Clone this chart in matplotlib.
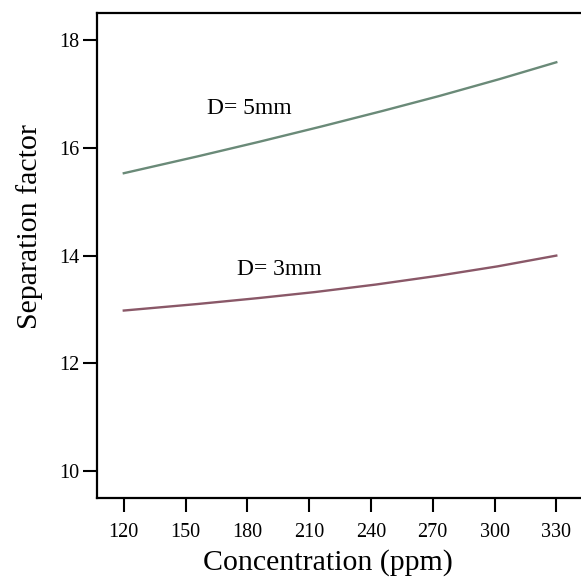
import matplotlib as mpl
mpl.use('Agg')
import matplotlib.pyplot as plt
import numpy as np

# concentration (ppm)
conc = [120, 150, 180, 210, 240, 270, 300, 330]
# separation factor per nozzle diameter
sf_5mm = [15.53, 15.79, 16.06, 16.34, 16.63, 16.93, 17.25, 17.59]
sf_3mm = [12.98, 13.08, 13.19, 13.31, 13.45, 13.61, 13.79, 14.00]

x_ticks = [120, 150, 180, 210, 240, 270, 300, 330]
y_ticks = [10, 12, 14, 16, 18]

plt.rcParams['font.family'] = ['Liberation Serif', 'DejaVu Serif']

fig = plt.figure(figsize=(5.81, 5.77), dpi=100)
ax = fig.add_axes([0.167, 0.137, 0.833, 0.840])

xs = np.linspace(conc[0], conc[-1], 200)
ax.plot(xs, np.interp(xs, conc, sf_5mm), color='#6a8a78', lw=1.7)
ax.plot(xs, np.interp(xs, conc, sf_3mm), color='#8a5868', lw=1.7)

ax.text(160.5, 16.74, 'D= 5mm', fontsize=17, va='center', ha='left')
ax.text(175.0, 13.75, 'D= 3mm', fontsize=17, va='center', ha='left')

ax.set_xlim(107, 342)
ax.set_ylim(9.5, 18.5)
ax.set_xticks(x_ticks)
ax.set_yticks(y_ticks)
ax.tick_params(direction='out', length=10, width=1.5, labelsize=14.5)
ax.tick_params(axis='y', pad=3)
ax.tick_params(axis='x', pad=8)
for s in ['left', 'bottom', 'top']:
    ax.spines[s].set_linewidth(1.6)
ax.spines['right'].set_visible(False)

ax.set_xlabel('Concentration (ppm)', fontsize=21.5)
ax.set_ylabel('Separation factor', fontsize=21.5)
ax.xaxis.set_label_coords(0.477, -0.105)
ax.yaxis.set_label_coords(-0.112, 0.56)

plt.savefig('out.png', dpi=100)
